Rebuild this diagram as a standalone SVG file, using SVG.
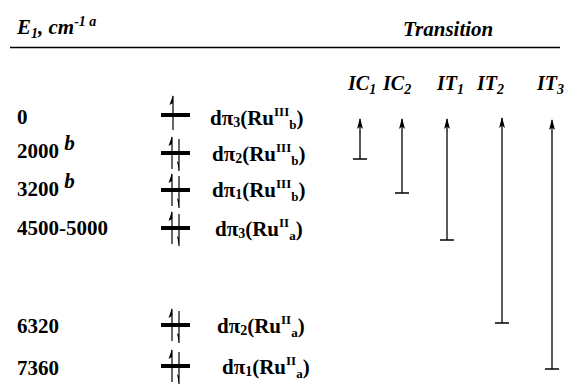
<svg xmlns="http://www.w3.org/2000/svg" width="568" height="385" viewBox="0 0 568 385">
<style>
text{font-family:"Liberation Serif","Times New Roman",serif;font-weight:bold;fill:#000}
.h{font-style:italic;font-size:21px}
.t{font-style:italic;font-size:20px}
.n{font-size:21px}
.l{font-size:21px}
.bar{stroke:#000;stroke-width:4}
.e{stroke:#000;stroke-width:1.2;fill:none}
.hp{fill:#000;stroke:none}
.tr{stroke:#000;stroke-width:1.3;fill:none}
.tb{stroke:#000;stroke-width:1.5}
</style>
<defs>
<marker id="ah" viewBox="0 0 11 6" refX="10" refY="3" markerWidth="11" markerHeight="6" markerUnits="userSpaceOnUse" orient="auto">
<path d="M11,3 L0,0 L2.5,3 L0,6 Z" fill="#000"/>
</marker>
<g id="pair">
<line class="e" x1="172" y1="-16" x2="172" y2="16"/>
<path class="hp" d="M172,-17 L168.5,-7 L172,-9 Z"/>
<line class="e" x1="179" y1="-14" x2="179" y2="18"/>
<path class="hp" d="M179,18 L177,8 L179,10 Z"/>
<line class="bar" x1="161" y1="0" x2="190" y2="0"/>
</g>
</defs>

<g id="header">
<text class="h" x="17" y="34">E<tspan font-size="14" dy="4">1</tspan><tspan dy="-4">, cm</tspan><tspan font-size="14" dy="-8">-1 a</tspan></text>
<text class="h" x="403" y="36">Transition</text>
<line x1="10" y1="47.5" x2="560" y2="47.5" stroke="#000" stroke-width="1.5"/>
</g>

<g id="transition-labels">
<text class="t" x="348" y="90">IC<tspan font-size="14" dy="4">1</tspan></text>
<text class="t" x="383" y="90">IC<tspan font-size="14" dy="4">2</tspan></text>
<text class="t" x="437" y="90">IT<tspan font-size="14" dy="4">1</tspan></text>
<text class="t" x="477" y="90">IT<tspan font-size="14" dy="4">2</tspan></text>
<text class="t" x="537" y="90">IT<tspan font-size="14" dy="4">3</tspan></text>
</g>

<g id="level-0">
<text class="n" x="17" y="124">0</text>
<line class="e" x1="173" y1="96" x2="173" y2="130"/>
<path class="hp" d="M173,95 L169.5,105 L173,103 Z"/>
<line class="bar" x1="161" y1="115" x2="190" y2="115"/>
<text class="l" x="210" y="125">dπ<tspan font-size="14" dy="2">3</tspan><tspan dy="-2">(Ru</tspan><tspan font-size="13" dy="-9">III</tspan><tspan font-size="13" dy="13">b</tspan><tspan dy="-4">)</tspan></text>
</g>

<g id="level-2000">
<text class="n" x="17" y="158">2000 <tspan class="h" font-size="14" dy="-8">b</tspan></text>
<use href="#pair" y="153"/>
<text class="l" x="212" y="161">dπ<tspan font-size="14" dy="2">2</tspan><tspan dy="-2">(Ru</tspan><tspan font-size="13" dy="-9">III</tspan><tspan font-size="13" dy="13">b</tspan><tspan dy="-4">)</tspan></text>
</g>

<g id="level-3200">
<text class="n" x="17" y="196">3200 <tspan class="h" font-size="14" dy="-8">b</tspan></text>
<use href="#pair" y="190"/>
<text class="l" x="212" y="197">dπ<tspan font-size="14" dy="2">1</tspan><tspan dy="-2">(Ru</tspan><tspan font-size="13" dy="-9">III</tspan><tspan font-size="13" dy="13">b</tspan><tspan dy="-4">)</tspan></text>
</g>

<g id="level-4500">
<text class="n" x="17" y="235">4500-5000</text>
<use href="#pair" y="228"/>
<text class="l" x="215" y="236">dπ<tspan font-size="14" dy="2">3</tspan><tspan dy="-2">(Ru</tspan><tspan font-size="13" dy="-9">II</tspan><tspan font-size="13" dy="13">a</tspan><tspan dy="-4">)</tspan></text>
</g>

<g id="level-6320">
<text class="n" x="17" y="333">6320</text>
<use href="#pair" y="325"/>
<text class="l" x="217" y="333">dπ<tspan font-size="14" dy="2">2</tspan><tspan dy="-2">(Ru</tspan><tspan font-size="13" dy="-9">II</tspan><tspan font-size="13" dy="13">a</tspan><tspan dy="-4">)</tspan></text>
</g>

<g id="level-7360">
<text class="n" x="17" y="375">7360</text>
<use href="#pair" y="366"/>
<text class="l" x="222" y="374">dπ<tspan font-size="14" dy="2">1</tspan><tspan dy="-2">(Ru</tspan><tspan font-size="13" dy="-9">II</tspan><tspan font-size="13" dy="13">a</tspan><tspan dy="-4">)</tspan></text>
</g>

<g id="connectors">
<line class="tr" x1="360" y1="159" x2="360" y2="119" marker-end="url(#ah)"/>
<line class="tb" x1="353" y1="159" x2="367" y2="159"/>
<line class="tr" x1="402" y1="193" x2="402" y2="119" marker-end="url(#ah)"/>
<line class="tb" x1="395" y1="193" x2="409" y2="193"/>
<line class="tr" x1="447" y1="240" x2="447" y2="119" marker-end="url(#ah)"/>
<line class="tb" x1="440" y1="240" x2="454" y2="240"/>
<line class="tr" x1="502" y1="323" x2="502" y2="118" marker-end="url(#ah)"/>
<line class="tb" x1="495" y1="323" x2="509" y2="323"/>
<line class="tr" x1="552" y1="369" x2="552" y2="120" marker-end="url(#ah)"/>
<line class="tb" x1="545" y1="369" x2="559" y2="369"/>
</g>
</svg>
